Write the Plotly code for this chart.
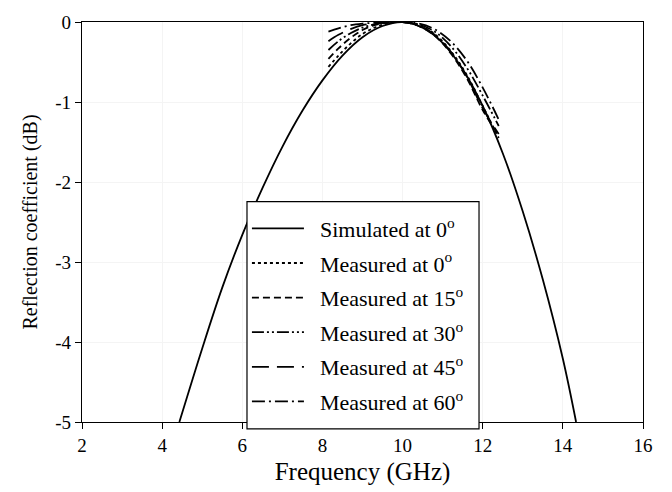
import plotly.graph_objects as go

# Simulated reflection coefficient at normal incidence (GHz, dB)
sim_freq = [4.43, 5.0, 5.5, 6.0, 6.5, 7.0, 7.5, 8.0, 8.5, 9.0, 9.5, 10.0,
            10.5, 11.0, 11.5, 12.0, 12.5, 13.0, 13.5, 14.0, 14.33]
sim_db = [-5.0, -4.08, -3.32, -2.66, -2.08, -1.56, -1.11, -0.73, -0.42, -0.19, -0.05, 0.0,
          -0.07, -0.26, -0.59, -1.05, -1.64, -2.37, -3.22, -4.21, -5.0]

# Measured reflection coefficient at several incidence angles
meas_freq = [8.15, 8.4, 8.7, 9.0, 9.3, 9.6, 10.0, 10.4, 10.8, 11.2, 11.6, 12.0, 12.4]
meas_0 = [-0.56, -0.42, -0.27, -0.15, -0.07, -0.02, 0.0, -0.04, -0.15, -0.36, -0.66, -1.05, -1.45]
meas_15 = [-0.46, -0.33, -0.2, -0.1, -0.04, -0.01, 0.0, -0.05, -0.17, -0.39, -0.7, -1.1, -1.42]
meas_30 = [-0.35, -0.24, -0.14, -0.07, -0.03, -0.01, 0.0, -0.03, -0.12, -0.3, -0.57, -0.92, -1.3]
meas_45 = [-0.24, -0.16, -0.09, -0.04, -0.02, 0.0, 0.0, -0.04, -0.16, -0.37, -0.68, -1.08, -1.4]
meas_60 = [-0.12, -0.08, -0.04, -0.02, -0.01, 0.0, 0.0, -0.02, -0.09, -0.24, -0.48, -0.82, -1.22]

x_ticks = [2, 4, 6, 8, 10, 12, 14, 16]
y_ticks = [0, -1, -2, -3, -4, -5]
y_tick_text = ["0", "-1", "-2", "-3", "-4", "-5"]

FONT = "Liberation Serif, Times New Roman, serif"
GAP = "\u00a0\u00a0"

series = [
    ("Simulated at 0<sup>o</sup>", sim_freq, sim_db, "solid"),
    ("Measured at 0<sup>o</sup>", meas_freq, meas_0, "dot"),
    ("Measured at 15<sup>o</sup>", meas_freq, meas_15, "7px,4px"),
    ("Measured at 30<sup>o</sup>", meas_freq, meas_30, "12px,3px,2px,3px,2px,3px"),
    ("Measured at 45<sup>o</sup>", meas_freq, meas_45, "17px,8px"),
    ("Measured at 60<sup>o</sup>", meas_freq, meas_60, "13px,4px,2px,4px"),
]

fig = go.Figure()
for i, (name, xs, ys, dash) in enumerate(series):
    fig.add_trace(go.Scatter(
        x=xs, y=ys, mode="lines", name=GAP + name,
        legendgroup=f"g{i}",
        line=dict(color="black", width=1.8, dash=dash, shape="spline", smoothing=1.0),
    ))

axis_common = dict(
    showline=True, linecolor="black", linewidth=1.2, mirror=True,
    ticks="outside", ticklen=6, tickwidth=1, tickcolor="black",
    showgrid=True, gridcolor="#f4f4f4", zeroline=False,
    tickfont=dict(family=FONT, size=19, color="black"),
)

# White framed panel behind the legend entries (slightly overhangs the x axis)
fig.add_shape(
    type="rect", xref="paper", yref="paper",
    x0=0.2941, x1=0.7077, y0=-0.0174, y1=0.5509,
    fillcolor="white", line=dict(color="black", width=1.2), layer="above",
)

fig.update_layout(
    width=672, height=492,
    margin=dict(l=82, r=29, t=19, b=70),
    paper_bgcolor="white", plot_bgcolor="white",
    font=dict(family=FONT, color="black"),
    xaxis=dict(range=[2, 16], tickvals=x_ticks,
               title=dict(text="Frequency (GHz)", font=dict(family=FONT, size=25), standoff=7),
               **axis_common),
    yaxis=dict(range=[-5, 0], tickvals=y_ticks, ticktext=y_tick_text,
               title=dict(text="Reflection coefficient (dB)", font=dict(family=FONT, size=20), standoff=12),
               **axis_common),
    legend=dict(
        x=0.294, y=0.536, xanchor="left", yanchor="top",
        bgcolor="rgba(0,0,0,0)", borderwidth=0,
        font=dict(family=FONT, size=22, color="black"),
        itemwidth=52, tracegroupgap=3,
    ),
    showlegend=True,
)

fig.write_html("out.html")
